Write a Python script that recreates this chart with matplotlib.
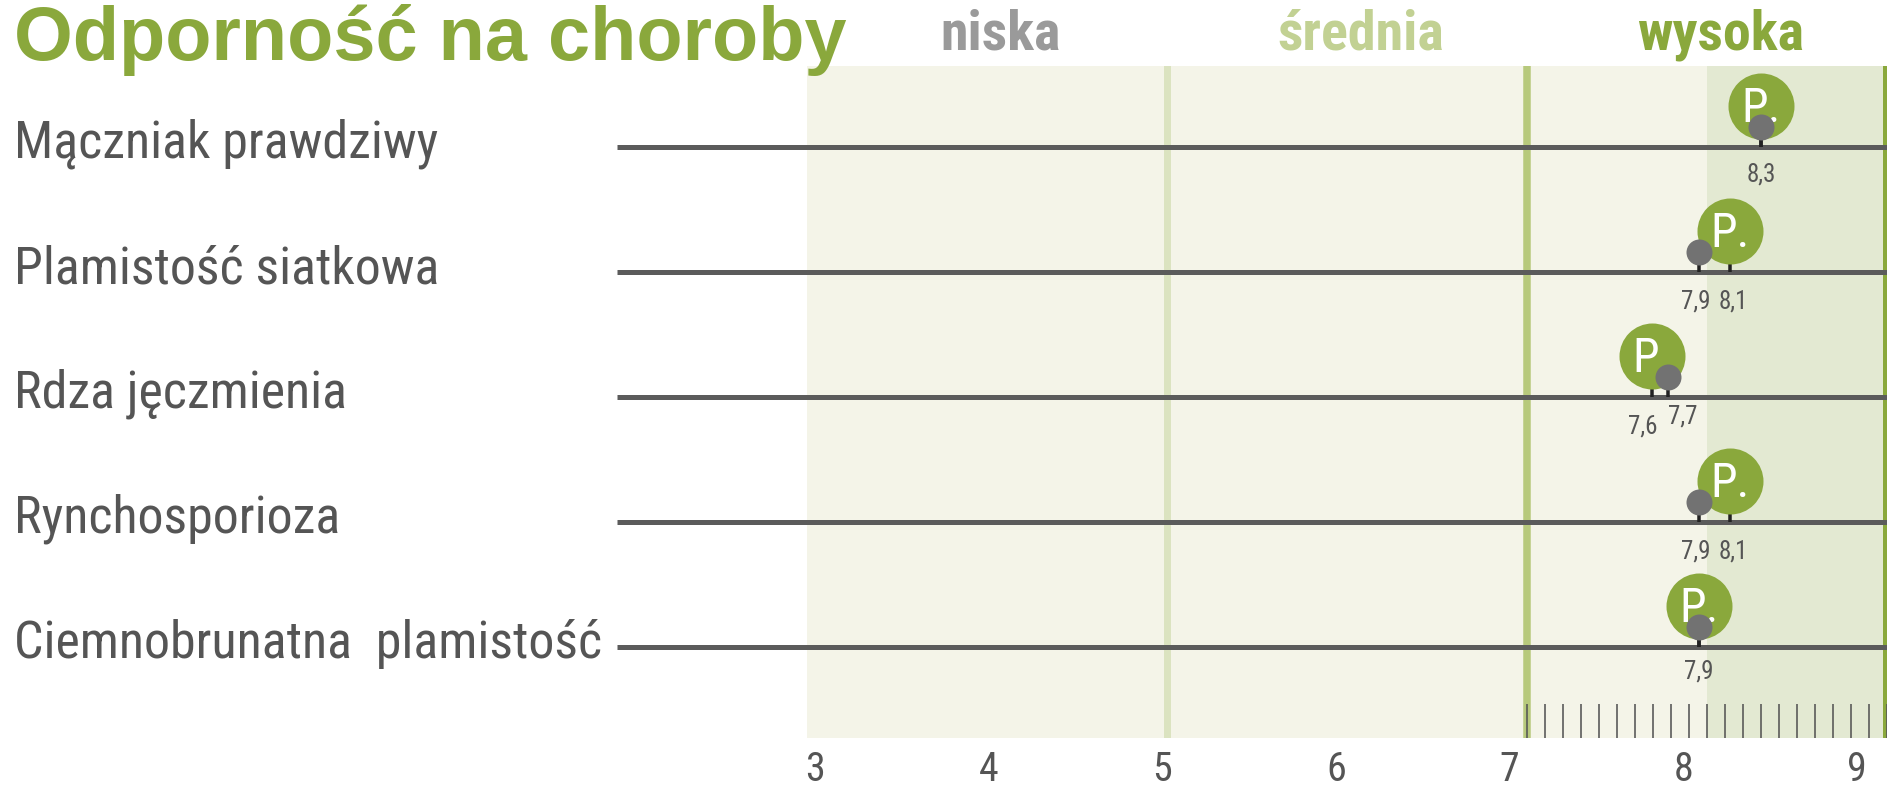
import matplotlib
matplotlib.use("Agg")
import matplotlib.pyplot as plt
import numpy as np
from matplotlib import font_manager as fm

# ---------------- data ----------------
title = "Odporność na choroby"
diseases = ["Mączniak prawdziwy", "Plamistość siatkowa", "Rdza jęczmienia",
            "Rynchosporioza", "Ciemnobrunatna  plamistość"]
variety_p = [8.3, 8.1, 7.6, 8.1, 7.9]      # green "P." marker
reference = [8.3, 7.9, 7.7, 7.9, 7.9]      # grey dot
value_labels = [["8,3"], ["7,9", "8,1"], ["7,6", "7,7"], ["7,9", "8,1"], ["7,9"]]
value_label_pos = [[8.3], [7.9, 8.1], [7.6, 7.7], [7.9, 8.1], [7.9]]
zones = ["niska", "średnia", "wysoka"]
zone_bounds = [3, 5, 7, 9]
high_start = 8
axis_ticks = [3, 4, 5, 6, 7, 8, 9]
fine_ticks = np.round(np.arange(70, 91) / 10, 1)

# ---------------- fonts ----------------
names = {f.name for f in fm.fontManager.ttflist}
def pick(cands):
    for c in cands:
        if c in names:
            return c
    return "DejaVu Sans"
NARROW = pick(["Liberation Sans Narrow", "Arial Narrow", "Roboto Condensed",
               "Archivo Narrow", "PT Sans Narrow", "Liberation Sans"])
REG = pick(["Liberation Sans", "Arimo", "DejaVu Sans"])
narrow_ok = NARROW != "Liberation Sans"

W, H, DPI = 1887, 786, 100
fig = plt.figure(figsize=(W / DPI, H / DPI), dpi=DPI)
fig.patch.set_facecolor("white")

def px(v):  # pixels to points
    return v * 72 / DPI

# axes geometry (pixels)
ax_l, ax_r, ax_t, ax_b = 617, 1887, 66, 738
rect = [ax_l / W, 1 - ax_b / H, (ax_r - ax_l) / W, (ax_b - ax_t) / H]

ax = fig.add_axes(rect)
ax.set_xlim(3 - (807 - ax_l) / 180, 9)
row_px = 125
ax.set_ylim(4 + (ax_b - 647) / row_px, -(147 - ax_t) / row_px)
ax.set_facecolor("none")
for s in ax.spines.values():
    s.set_visible(False)
ax.set_yticks([])
ax.set_xticks([])

TXT = "#555555"
CREAM = "#f4f4e8"
HIGH = "#e3e9d2"
GREEN = "#8aa83c"
ax.axvspan(zone_bounds[0], zone_bounds[-1], color=CREAM, zorder=0, lw=0)
ax.axvspan(high_start, zone_bounds[-1], color=HIGH, zorder=0.5, lw=0)
ax.axvline(zone_bounds[1], color="#dbe3c0", lw=px(7), zorder=1)
ax.axvline(zone_bounds[2], color="#b7c97c", lw=px(7.5), zorder=1)
ax.axvline(zone_bounds[3], color=GREEN, lw=px(9), zorder=1)

# fine ticks at bottom, 7.0 .. 9.0
ax.set_xticks(fine_ticks, minor=True)
ax.tick_params(axis="x", which="minor", direction="in", length=px(34),
               width=px(1.6), color="#555555", labelbottom=False)
ax.tick_params(axis="x", which="major", length=0)

# row lines
for i in range(len(diseases)):
    ax.plot([ax.get_xlim()[0], 9], [i, i], color="#5b5b5b", lw=px(5),
            solid_capstyle="butt", zorder=2, clip_on=False)

# zone headers
hdr_cols = ["#9a9a9a", "#c2d193", GREEN]
for j, z in enumerate(zones):
    ax.annotate(z, xy=((zone_bounds[j] + zone_bounds[j + 1]) / 2, ax.get_ylim()[1]),
                xytext=(px(14), px(16)), textcoords="offset points",
                ha="center", va="baseline", fontsize=px(56 if narrow_ok else 42),
                family=NARROW, weight="bold", color=hdr_cols[j], annotation_clip=False)

# tick-label axis
ax2 = fig.add_axes(rect, frameon=False)
k = (1857 - 815) / 6
ax2.set_xlim(3 - (815 - ax_l) / k, 9 + (ax_r - 1857) / k)
ax2.set_xticks(axis_ticks)
ax2.set_xticklabels([str(t) for t in axis_ticks], family=NARROW,
                    fontsize=px(40 if narrow_ok else 36), color=TXT)
ax2.tick_params(axis="x", length=0, pad=px(12))
ax2.set_yticks([])
ax2.patch.set_visible(False)

# marker axis (markers placed on the infographic's own value scale)
ax3 = fig.add_axes(rect, frameon=False)
ms = 155.5
ax3.set_xlim(7.92 - (1702 - ax_l) / ms, 7.92 + (ax_r - 1702) / ms)
ax3.set_ylim(ax.get_ylim())
ax3.set_xticks([])
ax3.set_yticks([])
ax3.patch.set_visible(False)

rows = np.arange(len(diseases))
p_up = 41 / row_px
d_up = 20 / row_px
stem = 8 / row_px
ax3.vlines(variety_p, rows - stem, rows, color="#222222", lw=px(3.5), zorder=3)
ax3.vlines(reference, rows - stem, rows, color="#222222", lw=px(3.5), zorder=3)
ax3.plot(variety_p, rows - p_up, "o", ms=px(66), color=GREEN, mec="none", zorder=4)
for x, r in zip(variety_p, rows):
    ax3.text(x, r - p_up + 3 / row_px, "P.", ha="center", va="center", color="white",
             family=NARROW, fontsize=px(48 if narrow_ok else 42), zorder=5)
ax3.plot(reference, rows - d_up, "o", ms=px(26), color="#727272", mec="none", zorder=6)

for r, (labs, poss) in enumerate(zip(value_labels, value_label_pos)):
    for n, (lab, pos) in enumerate(zip(labs, poss)):
        dx, dy = 0, 30
        if len(labs) == 2:
            dx = -3 if n == 0 else 3
        if r == 0:
            dy = 28
        if r == 2:
            dx, dy = (-9, 30) if n == 0 else (15, 20)
        if r == 4:
            dy = 25
        ax3.annotate(lab, xy=(pos, r), xytext=(px(dx), -px(dy)), textcoords="offset points",
                     ha="center", va="center", family=NARROW,
                     fontsize=px(25 if narrow_ok else 21), color=TXT, zorder=5)

# category labels
for i, d in enumerate(diseases):
    y_fig = 1 - (147 + i * row_px - 3) / H
    fig.text(14 / W, y_fig, d, ha="left", va="center", family=NARROW,
             fontsize=px(52 if narrow_ok else 46), color=TXT)

# title
fig.text(14 / W, 1 - 60 / H, title, ha="left", va="baseline", family=REG,
         weight="bold", fontsize=px(75.6), color=GREEN)

fig.savefig("out.png", dpi=DPI, facecolor="white")
